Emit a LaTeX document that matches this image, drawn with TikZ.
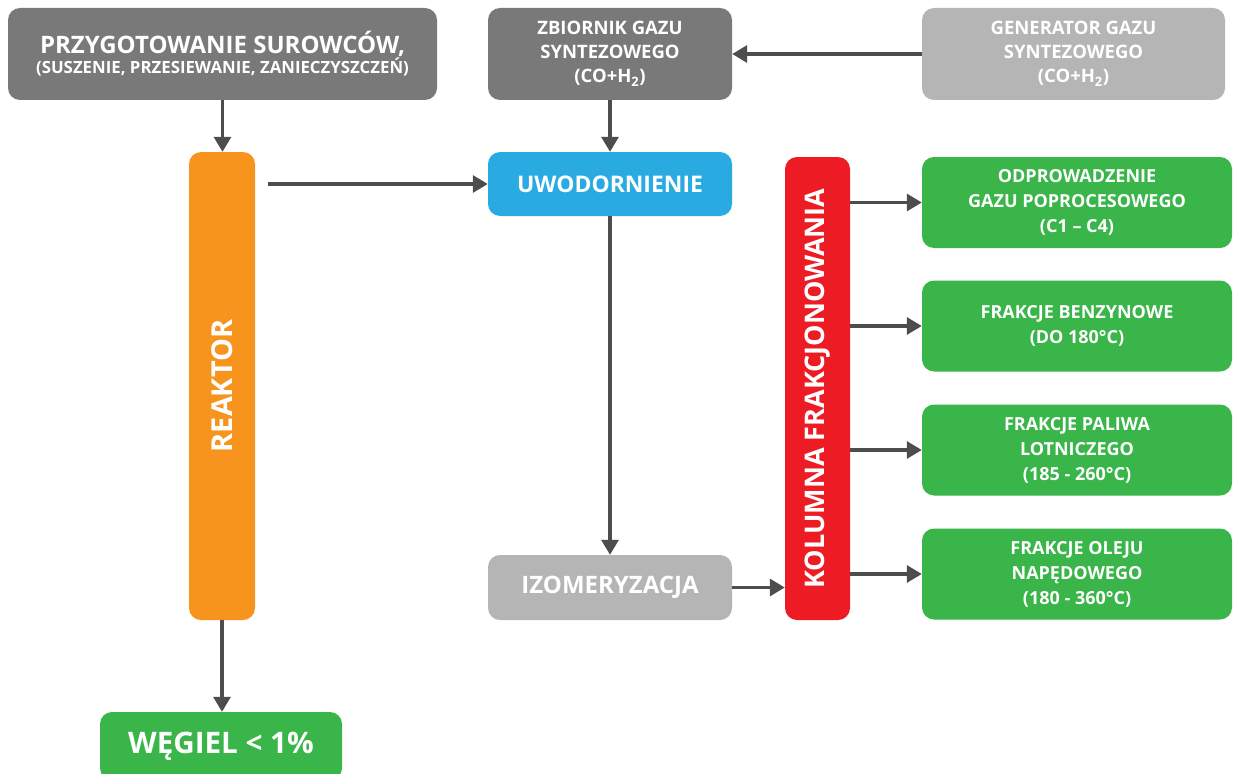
\documentclass[tikz,border=0pt]{standalone}
\usepackage{fontspec}
\setmainfont{Open Sans}
\usetikzlibrary{arrows.meta}

\definecolor{darkgrey}{HTML}{797979}
\definecolor{lightgrey}{HTML}{B5B5B5}
\definecolor{reaktororange}{HTML}{F7941D}
\definecolor{hydroblue}{HTML}{29ABE2}
\definecolor{columnred}{HTML}{ED1C24}
\definecolor{productgreen}{HTML}{39B54A}
\definecolor{arrowgrey}{HTML}{4D4D4D}

\tikzset{
  procbox/.style={rounded corners=12pt, text=white, align=center,
    inner sep=0pt, font=\bfseries},
  flow/.style={draw=arrowgrey, line width=3.2pt,
    -{Triangle[length=15pt,width=17pt]}},
  productbox/.style={procbox, fill=productgreen, minimum width=310pt,
    minimum height=91pt, font=\bfseries\fontsize{18}{25}\selectfont}
}

\begin{document}
\begin{tikzpicture}[x=1pt,y=-1pt]
  \useasboundingbox[fill=white] (0,0) rectangle (1233,773);
  % top row
  \node[procbox,fill=darkgrey,minimum width=429pt,minimum height=92pt] (prep) at (222.5,54)
    {{\fontsize{24}{27}\selectfont PRZYGOTOWANIE SUROWCÓW,}\\[0pt]
     {\fontsize{16.8}{20}\selectfont (SUSZENIE, PRZESIEWANIE, ZANIECZYSZCZEŃ)}};
  \node[procbox,fill=darkgrey,minimum width=244pt,minimum height=92pt,
    font=\bfseries\fontsize{18.5}{24}\selectfont] (tank) at (610,54)
    {ZBIORNIK GAZU\\SYNTEZOWEGO\\(CO+H\textsubscript{2})};
  \node[procbox,fill=lightgrey,minimum width=303pt,minimum height=92pt,
    font=\bfseries\fontsize{18.5}{24}\selectfont] (gen) at (1073.5,54)
    {GENERATOR GAZU\\SYNTEZOWEGO\\(CO+H\textsubscript{2})};
  % process
  \node[procbox,fill=reaktororange,rotate=90,minimum width=468pt,minimum height=66pt,
    font=\bfseries\fontsize{28.8}{32}\selectfont] (reak) at (222,386) {REAKTOR};
  \node[procbox,fill=hydroblue,minimum width=244pt,minimum height=64pt,
    font=\bfseries\fontsize{22.9}{26}\selectfont] (uwod) at (610,184) {UWODORNIENIE};
  \node[procbox,fill=lightgrey,minimum width=244pt,minimum height=65pt,
    font=\bfseries\fontsize{24}{27}\selectfont] (izom) at (610,587.5) {IZOMERYZACJA};
  \node[procbox,fill=columnred,rotate=90,minimum width=463pt,minimum height=65pt,
    font=\bfseries\fontsize{27}{30}\selectfont] (kol) at (817.5,388.5) {KOLUMNA FRAKCJONOWANIA};
  % products
  \node[productbox] (gas) at (1077,202.5) {ODPROWADZENIE\\GAZU POPROCESOWEGO\\(C1 – C4)};
  \node[productbox] (petrol) at (1077,326) {FRAKCJE BENZYNOWE\\(DO 180°C)};
  \node[productbox] (jet) at (1077,450) {FRAKCJE PALIWA\\LOTNICZEGO\\(185 - 260°C)};
  \node[productbox] (diesel) at (1077,574) {FRAKCJE OLEJU\\NAPĘDOWEGO\\(180 - 360°C)};
  \node[procbox,fill=productgreen,minimum width=242pt,minimum height=68pt,
    font=\bfseries\fontsize{29.6}{34}\selectfont] (coal) at (221,746) {WĘGIEL < 1\%};
  % connectors
  \draw[flow] (prep.south) -- (prep.south |- reak.east);
  \draw[flow] (gen.west) -- (tank.east);
  \draw[flow] (tank.south) -- (uwod.north);
  \draw[flow,shorten <=13pt] (reak.south |- uwod.west) -- (uwod.west);
  \draw[flow] (uwod.south) -- (izom.north);
  \draw[flow] (izom.east) -- (izom.east -| kol.north);
  \foreach \p in {gas,petrol,jet,diesel}
    \draw[flow] (kol.south |- \p.west) -- (\p.west);
  \draw[flow] (reak.west) -- (reak.west |- coal.north);
\end{tikzpicture}
\end{document}
